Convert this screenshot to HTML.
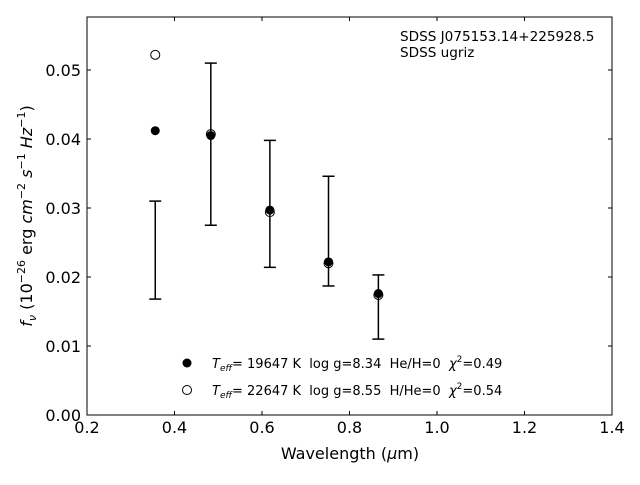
<!DOCTYPE html>
<html><head><meta charset="utf-8"><style>
body{margin:0;background:#fff;font-family:"Liberation Sans","DejaVu Sans",sans-serif}
svg text{font-family:"DejaVu Sans","Liberation Sans",sans-serif;white-space:pre}
</style></head><body>
<svg id="c" width="640" height="480" xmlns="http://www.w3.org/2000/svg">
<rect x="87" y="17" width="525" height="398" fill="none" stroke="#000" stroke-width="1"/>
<g id="ticks"></g><g id="marks"></g>
<text x="400" y="41" font-size="13.6">SDSS J075153.14+225928.5</text>
<text x="400" y="57" font-size="13.6">SDSS ugriz</text>
<text x="350" y="459" font-size="16" text-anchor="middle">Wavelength (<tspan font-style="italic">μ</tspan>m)</text>
<text transform="translate(32,216) rotate(-90)" font-size="16" text-anchor="middle"><tspan font-style="italic">f</tspan><tspan font-style="italic" font-size="11" dy="4">ν</tspan><tspan dy="-4"> (10</tspan><tspan font-size="11" dy="-7">−26</tspan><tspan dy="7"> erg </tspan><tspan font-style="italic">cm</tspan><tspan font-size="11" dy="-7">−2</tspan><tspan dy="7"> </tspan><tspan font-style="italic">s</tspan><tspan font-size="11" dy="-7">−1</tspan><tspan dy="7"> </tspan><tspan font-style="italic">Hz</tspan><tspan font-size="11" dy="-7">−1</tspan><tspan dy="7">)</tspan></text>
<g>
<circle cx="187" cy="363" r="4.5" fill="#000"/>
<text x="212" y="368" font-size="13"><tspan font-style="italic">T</tspan><tspan font-style="italic" font-size="9" dy="3">eff</tspan><tspan dy="-3">= 19647 K  log g=8.34  He/H=0  </tspan><tspan font-style="italic">χ</tspan><tspan font-size="9" dy="-6">2</tspan><tspan dy="6">=0.49</tspan></text>
<circle cx="187" cy="390" r="4.5" fill="#fff" stroke="#000"/>
<text x="212" y="395" font-size="13"><tspan font-style="italic">T</tspan><tspan font-style="italic" font-size="9" dy="3">eff</tspan><tspan dy="-3">= 22647 K  log g=8.55  H/He=0  </tspan><tspan font-style="italic">χ</tspan><tspan font-size="9" dy="-6">2</tspan><tspan dy="6">=0.54</tspan></text>
</g>
</svg>
<script>
const xTicks=[0.2,0.4,0.6,0.8,1.0,1.2,1.4];
const yTicks=[0.00,0.01,0.02,0.03,0.04,0.05];
const wavelengths=[0.356,0.483,0.618,0.752,0.866];
const fluxFilled=[0.0412,0.0405,0.0297,0.0222,0.0176];
const fluxOpen=[0.0522,0.0407,0.0294,0.0220,0.0174];
const obsLow=[0.0168,0.0275,0.0214,0.0187,0.0110];
const obsHigh=[0.0310,0.0510,0.0398,0.0346,0.0203];
const X=v=>87+(v-0.2)/1.2*525;
const Y=v=>415-v/0.01*69;
const NS="http://www.w3.org/2000/svg";
function mk(tag,attrs,parent){const e=document.createElementNS(NS,tag);for(const k in attrs)e.setAttribute(k,attrs[k]);parent.appendChild(e);return e;}
const T=document.getElementById('ticks'),M=document.getElementById('marks');
xTicks.forEach(v=>{const x=X(v);
 let l=mk('line',{x1:x,x2:x,y1:415,y2:411,stroke:'#000'},T);
 
 
 let l2=mk('line',{x1:x,x2:x,y1:17,y2:21,stroke:'#000'},T);
 
 
 let t=mk('text',{x:x,y:433,'font-size':16,'text-anchor':'middle'},T);t.textContent=v.toFixed(1);
 
 
});
yTicks.forEach(v=>{const y=Y(v);
 let l=mk('line',{x1:87,x2:91,y1:y,y2:y,stroke:'#000'},T);
 
 
 let l2=mk('line',{x1:612,x2:608,y1:y,y2:y,stroke:'#000'},T);
 
 
 let t=mk('text',{x:81,y:y+6,'font-size':16,'text-anchor':'end'},T);t.textContent=v.toFixed(2);
 
 
});
wavelengths.forEach((w,i)=>{const x=X(w);
 const g=mk('g',{stroke:'#000','stroke-width':1.5},M);
 
 
 mk('line',{x1:x,x2:x,y1:Y(obsLow[i]),y2:Y(obsHigh[i])},g);
 mk('line',{x1:x-6,x2:x+6,y1:Y(obsLow[i]),y2:Y(obsLow[i])},g);
 mk('line',{x1:x-6,x2:x+6,y1:Y(obsHigh[i]),y2:Y(obsHigh[i])},g);
 const f=mk('circle',{cx:x,cy:Y(fluxFilled[i]),r:4.5,fill:'#000'},M);
 
 
 const o=mk('circle',{cx:x,cy:Y(fluxOpen[i]),r:4.5,fill:'none',stroke:'#000'},M);
 
 
});
</script>
</body></html>
